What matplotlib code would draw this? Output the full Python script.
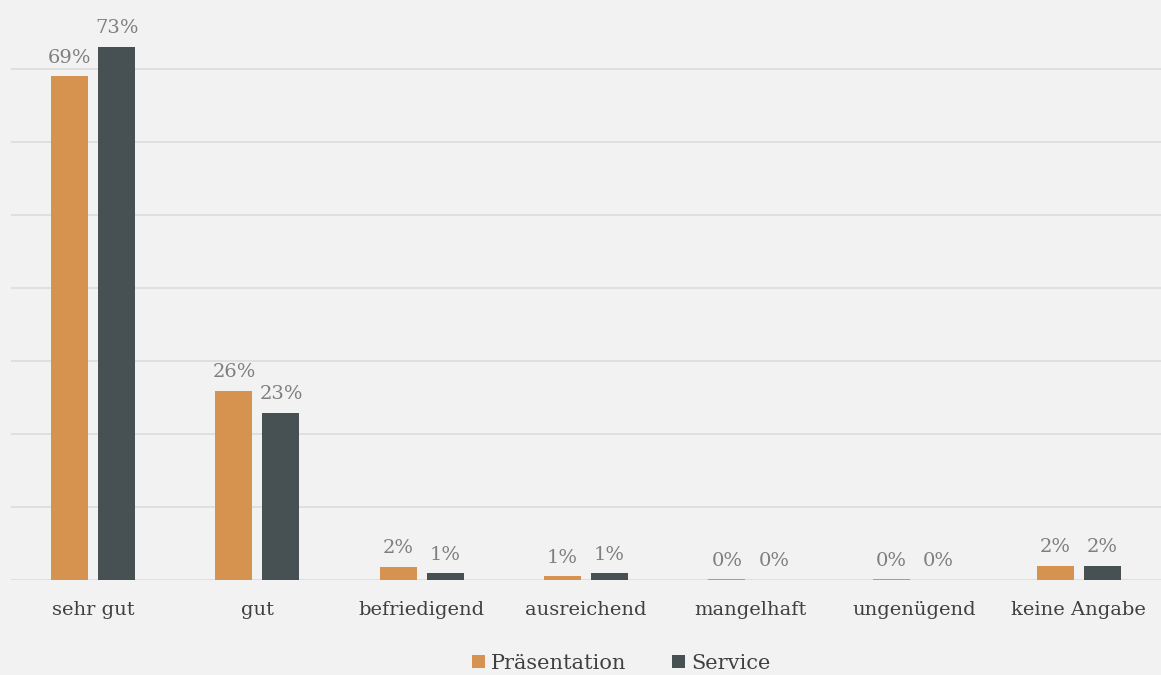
import matplotlib.pyplot as plt
import numpy as np

# data (shares)
categories = ['sehr gut', 'gut', 'befriedigend', 'ausreichend',
              'mangelhaft', 'ungenügend', 'keine Angabe']
praesentation = [0.69, 0.259, 0.0185, 0.005, 0.001, 0.001, 0.019]
service = [0.73, 0.229, 0.009, 0.009, 0.0, 0.0, 0.019]
praes_labels = ['69%', '26%', '2%', '1%', '0%', '0%', '2%']
serv_labels = ['73%', '23%', '1%', '1%', '0%', '0%', '2%']

# style
plt.rcParams['font.family'] = ['DejaVu Serif']
bg = '#f2f2f2'
c_praes = '#d6924f'
c_serv = '#475052'

fig = plt.figure(figsize=(11.61, 6.75), dpi=100, facecolor=bg)
ax = fig.add_axes([0.0095, 0.1407, 0.9905, 0.8593], facecolor=bg)

x = np.arange(len(categories))
w = 0.225
off = 0.143
b1 = ax.bar(x - off, praesentation, w, color=c_praes, label='Präsentation', zorder=3)
b2 = ax.bar(x + off, service, w, color=c_serv, label='Service', zorder=3)

for bars, labels in ((b1, praes_labels), (b2, serv_labels)):
    for rect, lab in zip(bars, labels):
        ax.annotate(lab, (rect.get_x() + rect.get_width() / 2, rect.get_height()),
                    xytext=(0, 7), textcoords='offset points', ha='center', va='bottom',
                    fontsize=14, color='#7f7f7f')

ax.set_xlim(-0.5, len(categories) - 0.5)
ax.set_ylim(0, 0.7945)
ax.set_yticks(np.arange(0, 0.71, 0.1))
ax.set_yticklabels([])
ax.tick_params(axis='y', length=0)
ax.tick_params(axis='x', length=0, pad=15, labelsize=14, labelcolor='#404040')
ax.set_xticks(x)
ax.set_xticklabels(categories)
ax.grid(axis='y', color='#dcdcdc', linewidth=1.2, zorder=0)
for s in ax.spines.values():
    s.set_visible(False)

fig.legend(handles=[b1, b2], loc='lower center', bbox_to_anchor=(0.535, -0.025),
           ncol=2, frameon=False, fontsize=15, handlelength=0.6, handleheight=0.6,
           handletextpad=0.3, columnspacing=2.2, labelcolor='#404040')

fig.savefig('out.png', dpi=100, facecolor=bg)
